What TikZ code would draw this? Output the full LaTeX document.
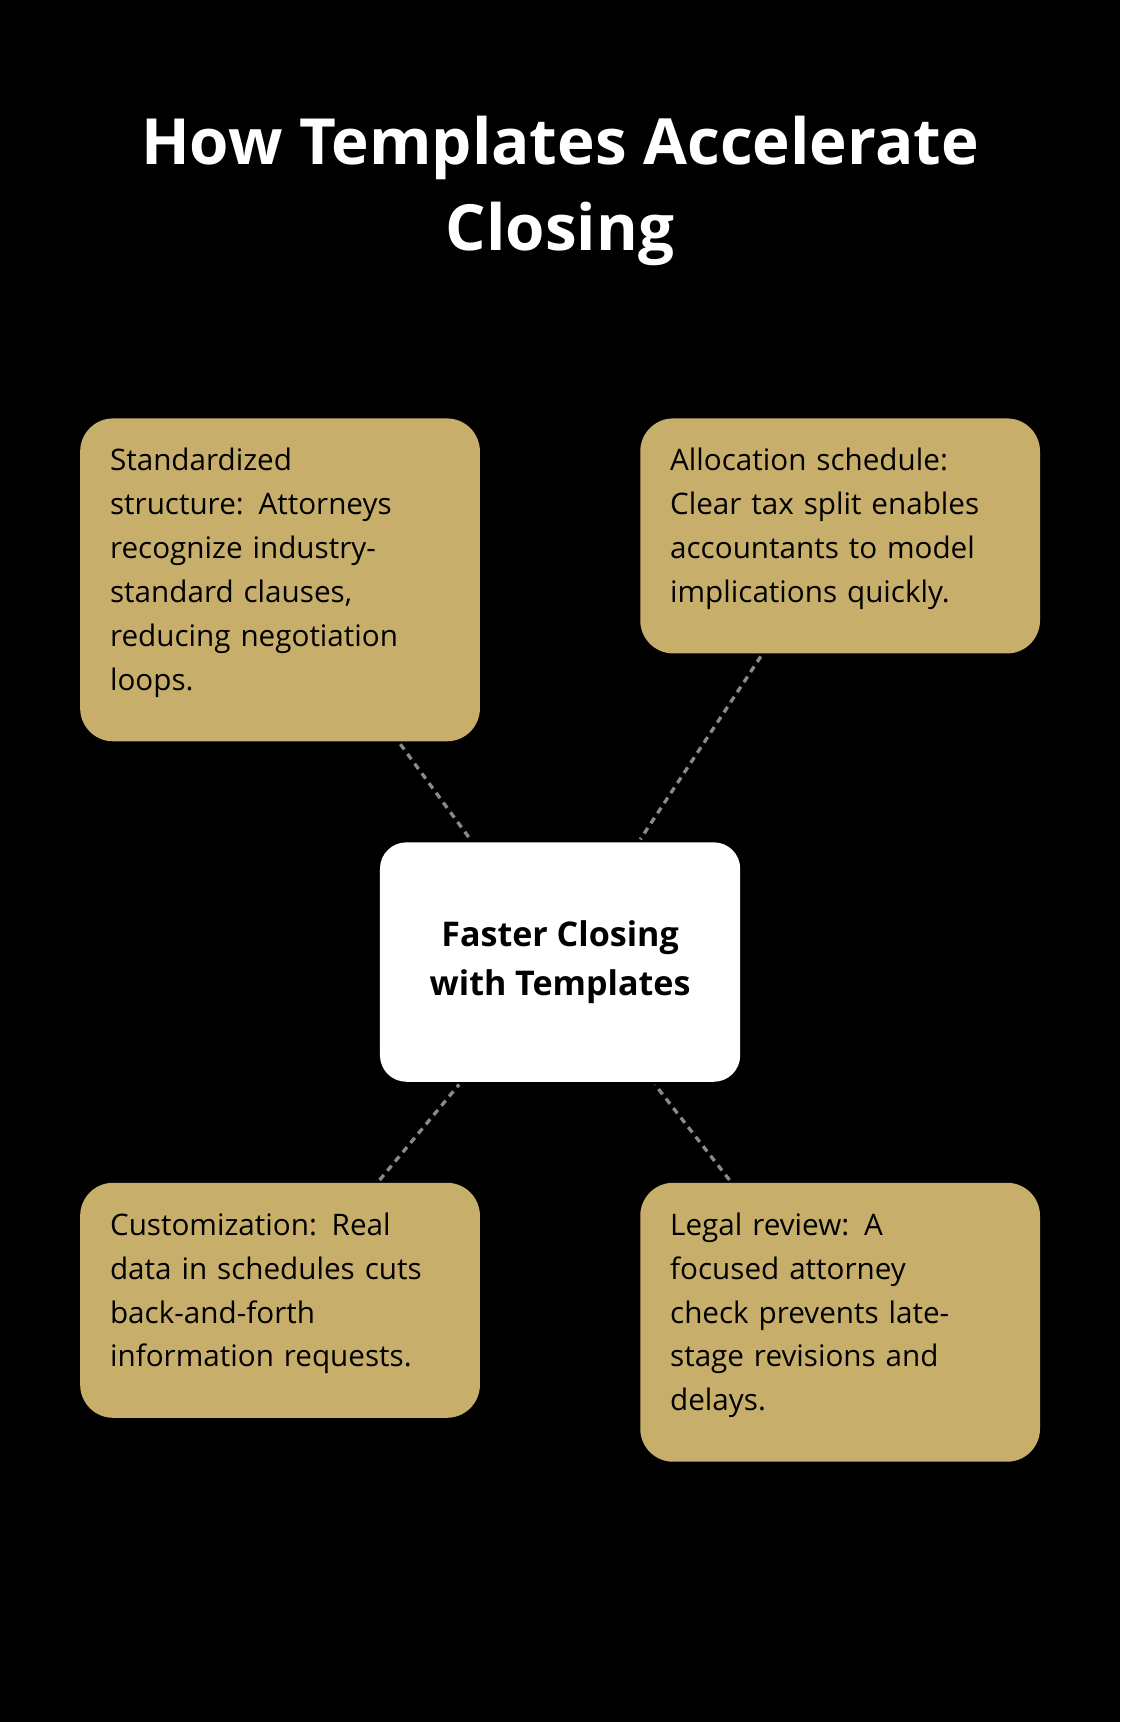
\documentclass[tikz,border=0pt]{standalone}
\usepackage{fontspec}
\setmainfont{Open Sans}
\definecolor{gold}{HTML}{C7AF6B}
\definecolor{dashgrey}{HTML}{8A8A8A}
\begin{document}
\begin{tikzpicture}[x=1pt,y=1pt,
  box/.style={fill=gold,rounded corners=30pt,inner sep=0pt},
  txt/.style={anchor=north west,align=left,text width=320pt,font=\fontsize{27}{40}\selectfont,inner sep=0pt},
  link/.style={draw=dashgrey,line width=3pt,dash pattern=on 6pt off 5pt,shorten >=3pt,shorten <=3pt}]
\fill[black] (0,0) rectangle (1020,-1568);
\useasboundingbox (0,0) rectangle (1020,-1568);
\node[text=white,font=\bfseries\fontsize{58}{78}\selectfont,align=center] (title) at (510,-174) {How Templates Accelerate\\Closing};
\node[box,minimum width=364pt,minimum height=294pt] (tl) at (255,-528) {};
\node[box,minimum width=364pt,minimum height=214pt] (tr) at (765,-488) {};
\node[box,fill=white,minimum width=328pt,minimum height=218pt,rounded corners=24pt,font=\bfseries\fontsize{31}{44}\selectfont,align=center] (c) at (510,-876) {Faster Closing\\with Templates};
\node[box,minimum width=364pt,minimum height=214pt] (bl) at (255,-1184) {};
\node[box,minimum width=364pt,minimum height=254pt] (br) at (765,-1204) {};
\node[txt] (t1) at (100,-408) {Standardized\\structure: Attorneys\\recognize industry-\\standard clauses,\\reducing negotiation\\loops.};
\node[txt] (t2) at (610,-408) {Allocation schedule:\\Clear tax split enables\\accountants to model\\implications quickly.};
\node[txt] (t3) at (100,-1104) {Customization: Real\\data in schedules cuts\\back-and-forth\\information requests.};
\node[txt] (t4) at (610,-1104) {Legal review: A\\focused attorney\\check prevents late-\\stage revisions and\\delays.};
\draw[link] (tl) -- (c);
\draw[link] (tr) -- (c);
\draw[link] (bl) -- (c);
\draw[link] (br) -- (c);
\end{tikzpicture}
\end{document}
